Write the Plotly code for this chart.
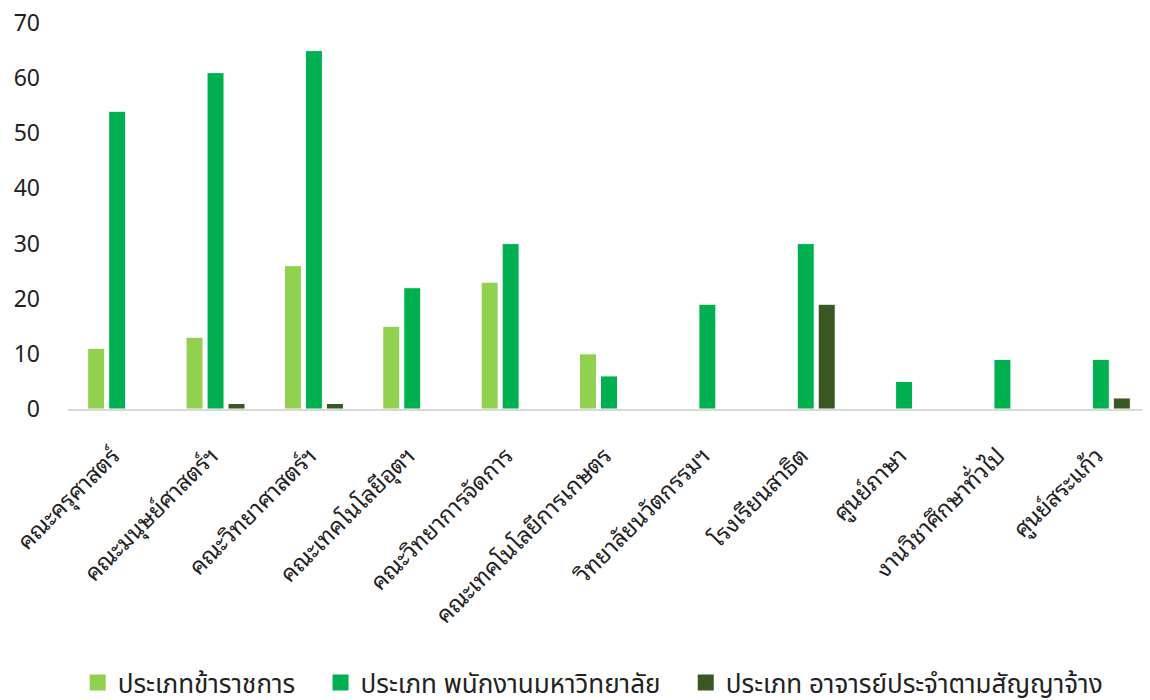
import plotly.graph_objects as go

categories = ['คณะครุศาสตร์', 'คณะมนุษย์ศาสตร์ฯ', 'คณะวิทยาศาสตร์ฯ', 'คณะเทคโนโลยีอุตฯ',
              'คณะวิทยาการจัดการ', 'คณะเทคโนโลยีการเกษตร', 'วิทยาลัยนวัตกรรมฯ',
              'โรงเรียนสาธิต', 'ศูนย์ภาษา', 'งานวิชาศึกษาทั่วไป', 'ศูนย์สระแก้ว']
civil_servant = [11, 13, 26, 15, 23, 10, 0, 0, 0, 0, 0]
univ_staff = [54, 61, 65, 22, 30, 6, 19, 30, 5, 9, 9]
contract = [0, 1, 1, 0, 0, 0, 0, 19, 0, 0, 2]

names = ['ประเภทข้าราชการ', 'ประเภท พนักงานมหาวิทยาลัย', 'ประเภท อาจารย์ประจำตามสัญญาจ้าง']
colors = ['#92D050', '#00B050', '#385723']

fig = go.Figure()
for vals, name, col in zip([civil_servant, univ_staff, contract], names, colors):
    fig.add_trace(go.Bar(x=categories, y=vals, name=name,
                         marker_color=col,
                         marker_line=dict(color='white', width=1),
                         showlegend=False))
# legend entries with bigger square swatches (padded names to widen item spacing)
for i, (name, col) in enumerate(zip(names, colors)):
    label = name + ('\u00a0\u00a0\u00a0' if i < 2 else '')
    fig.add_trace(go.Scatter(x=[None], y=[None], mode='markers', name=label,
                             marker=dict(symbol='square', size=18, color=col)))

thai_font = 'Noto Sans Thai Looped, Noto Serif Thai, Noto Sans, sans-serif'
legend_font = 'Noto Sans Thai, Noto Sans Thai UI, Noto Sans, sans-serif'

# page body keeps an 8px margin, so the figure is 8px smaller each way
fig.update_layout(
    barmode='group',
    bargap=0.36,
    bargroupgap=0.19,
    width=1142, height=692,
    margin=dict(l=60, r=0, t=15, b=291),
    plot_bgcolor='white',
    paper_bgcolor='white',
    font=dict(family='Noto Sans, sans-serif', size=23, color='#222222'),
    legend=dict(orientation='h', xref='container', yref='container',
                x=0.512, xanchor='center', y=0.025, yanchor='middle',
                font=dict(size=26, family=legend_font), itemwidth=30,
                traceorder='normal'),
)
fig.update_yaxes(range=[0, 70], dtick=10, showgrid=False, zeroline=False,
                 showline=False, ticks='', tickfont=dict(size=23), automargin=False,
                 ticklabelstandoff=27, ticklabeloverflow='allow')
fig.update_xaxes(tickangle=-45, showline=True, linecolor='#d9d9d9', linewidth=2,
                 ticks='', tickfont=dict(size=23, family=thai_font),
                 ticksuffix='\u00a0', ticklabelstandoff=18, automargin=False)

fig.write_html("out.html")
